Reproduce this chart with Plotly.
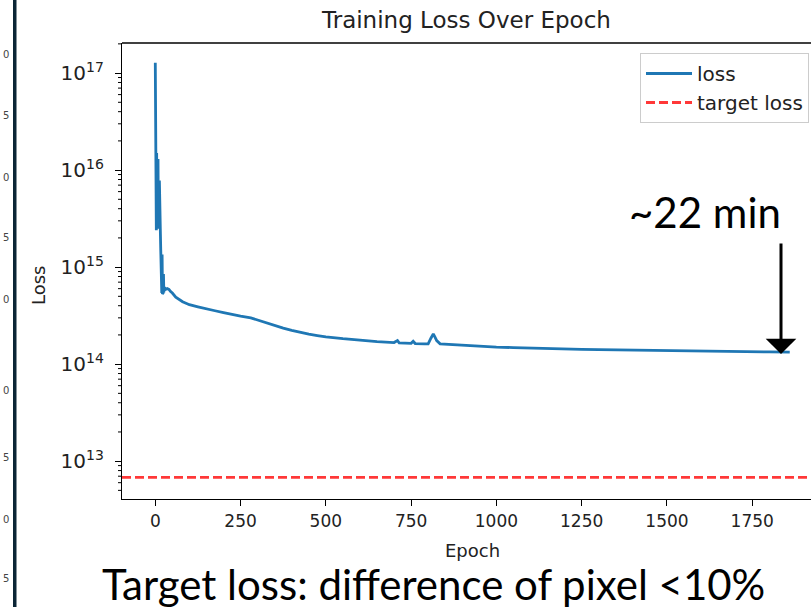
import math
import plotly.graph_objects as go

# ---------------- data ----------------
epochs = [0, 1, 2, 3, 4, 5, 6, 7, 8, 9, 10, 11, 12, 13, 14, 15, 16, 17, 18, 19,
          20, 21, 22, 23, 24, 25, 27, 30, 35, 40, 45, 50, 60, 70, 80, 90, 100,
          125, 150, 175, 200, 225, 250, 280, 300, 325, 350, 375, 400, 425, 450,
          475, 500, 550, 600, 650, 700, 710, 715, 750, 756, 762, 790, 800, 808,
          815, 820, 825, 835, 860, 900, 950, 1000, 1050, 1100, 1150, 1200, 1250,
          1300, 1350, 1400, 1450, 1500, 1550, 1600, 1650, 1700, 1750, 1800, 1860]
loss = [1.28e17, 3.6e16, 4.2e16, 2.4e15, 1.5e16, 2.6e15, 1.45e16, 3.0e15, 1.3e16, 2.5e15,
        8.0e15, 2.6e15, 7.8e15, 2.4e15, 6.5e15, 2.2e15, 1.5e15, 5.8e14, 1.45e15, 5.4e14,
        1.35e15, 5.3e14, 1.2e15, 5.4e14, 8.5e14, 5.5e14, 6.2e14, 5.9e14, 6.0e14, 5.9e14,
        5.6e14, 5.4e14, 4.9e14, 4.6e14, 4.4e14, 4.25e14, 4.1e14,
        3.9e14, 3.7e14, 3.55e14, 3.4e14, 3.25e14, 3.12e14, 3.0e14, 2.85e14, 2.65e14,
        2.5e14, 2.35e14, 2.23e14, 2.12e14, 2.04e14,
        1.97e14, 1.91e14, 1.83e14, 1.76e14, 1.71e14, 1.67e14, 1.75e14, 1.66e14, 1.64e14,
        1.72e14, 1.63e14, 1.62e14, 1.62e14, 1.85e14,
        2.05e14, 1.9e14, 1.75e14, 1.62e14, 1.6e14, 1.55e14, 1.52e14, 1.50e14, 1.48e14,
        1.46e14, 1.45e14, 1.44e14, 1.42e14,
        1.41e14, 1.40e14, 1.39e14, 1.38e14, 1.37e14, 1.365e14, 1.36e14, 1.35e14, 1.345e14,
        1.34e14, 1.335e14, 1.33e14]
target_loss = 6.8e12

x_tick_vals = [0, 250, 500, 750, 1000, 1250, 1500, 1750]
y_tick_exps = [13, 14, 15, 16, 17]
side_fragments = ["0", "5", "0", "5", "0", "0", "5", "0", "5"]

# ---------------- layout geometry ----------------
W, H = 811, 607
L, R, T, B = 122, 811, 43, 499
PW, PH = R - L, B - T
Y_RANGE = [12.61, 17.31]


def px(xp):
    return (xp - L) / PW


def py(yp):
    return (B - yp) / PH


def log_frac(v):
    # fraction of the y-axis height at which value v sits on the log axis
    return (math.log10(v) - Y_RANGE[0]) / (Y_RANGE[1] - Y_RANGE[0])


TXT = "#222222"
MPL = "DejaVu Sans"

fig = go.Figure()
fig.add_trace(go.Scatter(x=epochs, y=loss, mode="lines", name="loss",
                         line=dict(color="#1f77b4", width=2.8)))
fig.add_shape(type="line", xref="x domain", yref="y", x0=0, x1=1,
              y0=target_loss, y1=target_loss, name="target loss", showlegend=True,
              line=dict(color="rgba(255,0,0,0.78)", width=2.8, dash="9px,4px"))

# log-axis minor ticks (2..9 x 10^k) drawn just outside the left spine
for e in range(12, 18):
    for m in range(2, 10):
        f = log_frac(m * 10 ** e)
        if 0 <= f <= 1:
            fig.add_shape(type="line", xref="paper", yref="paper", x0=-4 / PW, x1=0,
                          y0=f, y1=f, line=dict(color="black", width=1))

fig.update_layout(
    width=W, height=H,
    margin=dict(l=L, r=W - R, t=T, b=H - B),
    paper_bgcolor="white", plot_bgcolor="white",
    showlegend=True,
    legend=dict(x=px(809), xanchor="right", y=py(53), yanchor="top",
                bgcolor="rgba(255,255,255,0.85)", bordercolor="#cccccc", borderwidth=1,
                font=dict(family=MPL, size=20, color=TXT), itemwidth=46),
    xaxis=dict(range=[-97.6, 1922.3], showgrid=False, zeroline=False,
               showline=True, linecolor="black", linewidth=1.3,
               ticks="outside", ticklen=6, tickwidth=1.3, tickcolor="black",
               tickvals=x_tick_vals, ticktext=[str(v) for v in x_tick_vals],
               tickfont=dict(family=MPL, size=17, color=TXT)),
    yaxis=dict(type="log", range=Y_RANGE, showgrid=False, zeroline=False,
               showline=True, linecolor="black", linewidth=1.3,
               ticks="outside", ticklen=6, tickwidth=1.3, tickcolor="black",
               tickvals=[10 ** e for e in y_tick_exps],
               ticktext=["10<sup>%d</sup>" % e for e in y_tick_exps],
               tickfont=dict(family=MPL, size=20, color=TXT),
               ticklabelstandoff=7),
)

# top border of the axes box (right side cropped in the reference)
fig.add_shape(type="line", xref="paper", yref="paper", x0=0, x1=1, y0=1, y1=1,
              line=dict(color="black", width=1.3))

# dark strip of the neighbouring slide element
fig.add_shape(type="rect", xref="paper", yref="paper", x0=px(13), x1=px(16.5),
              y0=py(H), y1=py(0), fillcolor="#0b2535", line=dict(width=0))

ann = []
ann.append(dict(text="Training Loss Over Epoch", x=px(466), y=py(20), xref="paper", yref="paper",
                showarrow=False, font=dict(family=MPL, size=23, color=TXT),
                xanchor="center", yanchor="middle"))
ann.append(dict(text="Epoch", x=px(472), y=py(550), xref="paper", yref="paper",
                showarrow=False, font=dict(family=MPL, size=18, color=TXT),
                xanchor="center", yanchor="middle"))
ann.append(dict(text="Loss", x=px(38), y=py(286), xref="paper", yref="paper",
                showarrow=False, textangle=-90, font=dict(family=MPL, size=18, color=TXT),
                xanchor="center", yanchor="middle"))
frag_y = [55, 115, 177, 237, 299, 390, 457, 519, 578]
for t, yy in zip(side_fragments, frag_y):
    ann.append(dict(text=t, x=px(0.5), y=py(yy), xref="paper", yref="paper",
                    showarrow=False, font=dict(family=MPL, size=10, color="#444"),
                    xanchor="left", yanchor="middle"))
# arrow
ann.append(dict(text="", x=px(781), y=py(354), xref="paper", yref="paper",
                ax=0, ay=-112, axref="pixel", ayref="pixel",
                showarrow=True, arrowhead=1, arrowsize=1.7, arrowwidth=3, arrowcolor="black"))
ann.append(dict(text="~22 min", x=px(783), y=py(212), xref="paper", yref="paper",
                showarrow=False, font=dict(family="Lato", size=42, color="black"),
                xanchor="right", yanchor="middle"))
ann.append(dict(text="Target loss: difference of pixel <10%", x=px(433), y=py(584),
                xref="paper", yref="paper", showarrow=False,
                font=dict(family="Lato", size=42, color="black"),
                xanchor="center", yanchor="middle"))
fig.update_layout(annotations=ann)

fig.write_html("out.html")
